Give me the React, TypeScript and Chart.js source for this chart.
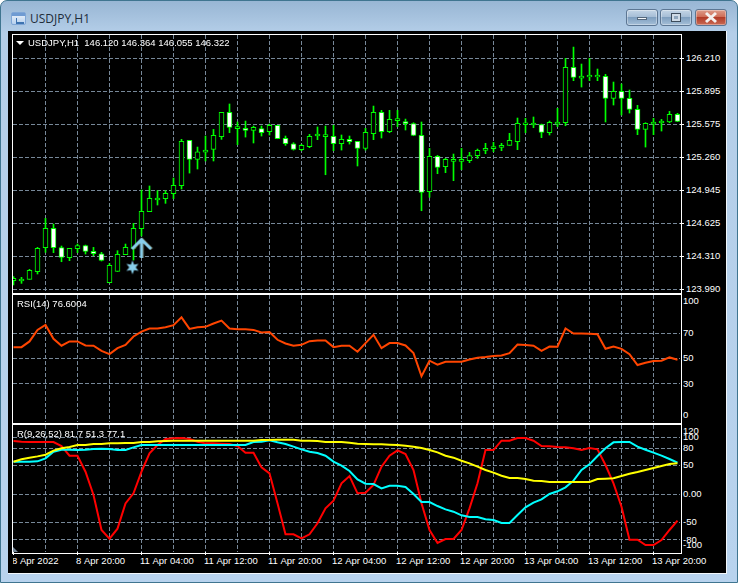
import React, { useEffect, useRef } from "react";
import { Chart, registerables } from "chart.js";

Chart.register(...registerables);

const opens = [124.075,124.072,124.088,124.161,124.392,124.578,124.392,124.296,124.382,124.411,124.357,124.334,124.055,124.164,124.325,124.385,124.575,124.738,124.850,124.863,124.911,124.988,125.423,125.241,125.311,125.337,125.459,125.692,125.536,125.539,125.519,125.536,125.507,125.568,125.443,125.391,125.334,125.363,125.465,125.459,125.462,125.391,125.433,125.414,125.346,125.487,125.692,125.507,125.612,125.603,125.584,125.471,124.930,125.270,125.170,125.222,125.222,125.228,125.276,125.327,125.343,125.356,125.375,125.411,125.574,125.571,125.574,125.497,125.580,125.593,126.125,126.022,126.032,126.032,126.038,125.827,125.894,125.827,125.721,125.529,125.580,125.590,125.600,125.673];
const closes = [124.097,124.091,124.174,124.385,124.578,124.392,124.299,124.385,124.411,124.357,124.334,124.270,124.222,124.328,124.395,124.578,124.741,124.866,124.869,124.914,124.991,125.414,125.241,125.314,125.330,125.471,125.692,125.548,125.555,125.519,125.548,125.497,125.568,125.439,125.391,125.337,125.375,125.462,125.484,125.478,125.391,125.433,125.411,125.346,125.500,125.692,125.507,125.625,125.632,125.584,125.471,124.924,125.270,125.164,125.241,125.241,125.241,125.276,125.327,125.346,125.363,125.375,125.423,125.587,125.593,125.590,125.500,125.596,125.600,126.125,126.029,126.042,126.051,126.051,125.827,125.894,125.827,125.721,125.529,125.587,125.600,125.609,125.673,125.606];
const highs = [124.113,124.107,124.184,124.395,124.674,124.619,124.408,124.385,124.427,124.417,124.395,124.347,124.241,124.363,124.427,124.626,124.946,124.985,124.940,124.940,125.061,125.433,125.423,125.359,125.465,125.529,125.692,125.773,125.600,125.609,125.561,125.561,125.580,125.568,125.465,125.401,125.385,125.481,125.552,125.561,125.568,125.475,125.465,125.414,125.539,125.753,125.712,125.712,125.712,125.628,125.593,125.600,125.346,125.279,125.250,125.292,125.346,125.308,125.340,125.395,125.404,125.395,125.491,125.638,125.635,125.648,125.580,125.609,125.731,126.211,126.320,126.157,126.211,126.109,126.058,125.984,125.965,125.907,125.760,125.593,125.635,125.625,125.702,125.683];
const lows = [124.033,124.049,124.088,124.139,124.347,124.344,124.257,124.267,124.344,124.331,124.315,124.264,124.055,124.164,124.325,124.273,124.504,124.738,124.802,124.818,124.863,124.956,125.109,125.148,125.225,125.225,125.433,125.497,125.382,125.455,125.398,125.465,125.475,125.439,125.375,125.330,125.324,125.353,125.430,125.093,125.324,125.330,125.388,125.177,125.330,125.430,125.446,125.497,125.555,125.523,125.468,124.747,124.876,125.103,125.113,125.036,125.142,125.209,125.250,125.295,125.314,125.324,125.375,125.334,125.497,125.545,125.449,125.475,125.555,125.564,125.997,125.936,125.997,125.997,125.600,125.763,125.667,125.686,125.478,125.359,125.478,125.513,125.593,125.603];

const rsiValues = [59.0,59.0,63.5,72.6,76.5,65.6,60.1,63.5,63.5,60.3,60.1,56.1,53.5,58.2,60.8,67.4,71.3,73.7,73.7,74.7,76.3,82.5,73.4,74.7,75.0,77.6,79.9,73.7,73.1,73.1,72.6,70.5,71.0,64.8,61.9,60.1,60.8,63.7,64.2,64.2,59.0,60.1,60.1,55.4,62.2,68.7,58.2,62.2,62.2,60.3,54.3,36.0,48.3,45.2,47.5,47.5,47.5,49.3,50.7,51.2,52.0,52.5,54.3,61.1,60.6,60.1,56.1,59.5,59.3,73.7,69.7,69.7,69.5,69.2,57.7,59.5,57.7,53.5,44.9,46.7,48.0,48.3,50.9,49.1];

const redValues = [93.5,92.3,91.8,91.8,91.8,91.8,84.7,67.8,67.8,39.7,-1.2,-62.5,-77.7,-60.2,-15.8,1.8,39.7,71.9,86.5,97.0,98.2,98.8,97.0,92.3,89.4,89.4,88.8,88.3,84.7,73.1,73.1,47.3,36.8,-15.8,-70.1,-70.1,-77.1,-70.1,-50.8,-24.5,-11.1,19.3,32.1,1.8,2.9,16.4,48.5,67.8,77.1,70.7,42.7,-15.8,-62.5,-85.3,-78.3,-78.3,-62.5,-24.5,19.3,77.7,77.7,94.1,94.1,98.8,98.8,94.1,84.7,84.2,83.0,82.4,80.7,77.7,81.2,78.9,51.4,19.3,-21.6,-79.5,-79.5,-88.8,-88.8,-80.1,-62.5,-46.2];
const cyanValues = [57.3,57.3,57.3,57.9,63.1,74.8,78.3,78.3,77.7,78.3,79.5,80.1,79.5,77.7,77.7,82.4,86.5,86.5,86.5,86.5,86.5,86.5,86.5,86.5,86.5,86.5,86.5,86.5,86.5,86.5,91.8,92.3,94.7,91.2,88.3,83.6,78.9,74.8,72.5,67.8,57.3,50.3,40.9,26.3,18.7,18.1,10.5,15.2,15.2,12.9,0.6,-13.4,-13.4,-20.5,-26.3,-30.4,-36.8,-39.7,-39.7,-43.8,-45.0,-50.3,-50.3,-36.2,-22.8,-14.6,-8.8,0.6,5.3,12.3,24.0,42.7,52.6,67.2,80.7,91.2,91.8,91.8,83.6,78.3,73.1,67.8,62.0,55.5];
const yellowValues = [57.3,61.4,64.3,66.6,69.5,76.6,80.7,83.0,86.5,86.5,88.3,88.3,89.4,89.4,90.0,90.0,91.8,91.8,92.9,93.5,94.1,94.1,94.1,94.1,94.1,94.1,94.1,94.1,94.1,94.1,94.1,95.3,95.3,95.9,95.9,95.9,94.1,94.1,93.5,91.8,91.8,91.8,90.6,88.8,88.3,87.7,87.7,87.1,86.5,85.3,83.6,81.2,77.7,73.6,67.8,64.3,59.0,54.4,48.5,42.7,38.0,32.7,28.6,28.6,26.9,24.0,23.4,21.6,21.6,21.6,21.6,21.6,21.6,26.9,27.5,28.1,32.1,36.2,39.2,42.7,46.2,49.7,53.2,54.4];

const priceTicks = [123.99,124.31,124.625,124.945,125.26,125.575,125.895,126.21];
const rsiTicks = [0,30,50,70,100];
const rsiGridLevels = [30,50,70];
const oscTicks = [-100,-80,-50,0,50,80,100,120];
const oscGridLevels = [-80,-50,0,50,80,100];
const timeLabels = ["8 Apr 2022","8 Apr 20:00","11 Apr 04:00","11 Apr 12:00","11 Apr 20:00","12 Apr 04:00","12 Apr 12:00","12 Apr 20:00","13 Apr 04:00","13 Apr 12:00","13 Apr 20:00"];

const arrowPoint = { x: 16, y: 124.389 };
const starPoint = { x: 15, y: 124.203 };

const FONT = '"Liberation Sans", Arial, sans-serif';
const GRID = "#778899";
const GREEN = "#00ff00";
const BAR_COUNT = opens.length;
const tickIdx: number[] = [];
for (let i = 0; i < BAR_COUNT; i += 4) tickIdx.push(i);

function clearPadding(s: any) {
  s.paddingTop = 0;
  s.paddingBottom = 0;
  s.paddingLeft = 0;
  s.paddingRight = 0;
}

function xScale(showLabels: boolean) {
  return {
    type: "linear",
    offset: false,
    min: -0.0625,
    max: 83.3125,
    afterBuildTicks: (s: any) => { s.ticks = tickIdx.map((value) => ({ value })); },
    afterFit: (s: any) => { s.height = showLabels ? 21 : 0; clearPadding(s); },
    border: { display: false, dash: [4, 2] },
    grid: {
      offset: false,
      color: (c: any) => (c.tick && c.tick.value === 0 ? "transparent" : GRID),
      lineWidth: 1,
      drawTicks: showLabels,
      tickLength: 3,
      tickBorderDash: [],
      tickColor: (c: any) => (c.tick && c.tick.value % 8 === 0 ? "#ffffff" : "transparent"),
    },
    ticks: {
      display: showLabels,
      autoSkip: false,
      maxRotation: 0,
      minRotation: 0,
      align: "start",
      labelOffset: -1.5,
      padding: 1,
      color: "#ffffff",
      font: { family: FONT, size: 9.5 },
      callback: (v: number) => (v % 8 === 0 ? timeLabels[v / 8] : ""),
    },
  };
}

function yScale(min: number, max: number, ticks: number[], grid: number[] | null, fmt: (v: number) => any, lh: number, tickLen: number, pad: number) {
  return {
    position: "right",
    min,
    max,
    afterBuildTicks: (s: any) => { s.ticks = ticks.map((value) => ({ value })); },
    afterFit: (s: any) => { s.width = 46; clearPadding(s); },
    border: { display: false, dash: [4, 2] },
    grid: {
      color: (c: any) => (!c.tick || !grid || grid.includes(c.tick.value) ? GRID : "transparent"),
      drawTicks: tickLen > 0,
      tickLength: tickLen,
      tickBorderDash: [],
      tickColor: "#ffffff",
    },
    ticks: {
      autoSkip: false,
      padding: pad,
      color: "#ffffff",
      font: { family: FONT, size: 9.5, lineHeight: lh },
      callback: fmt,
    },
  };
}

const baseOptions = {
  responsive: false,
  maintainAspectRatio: false,
  animation: false,
  devicePixelRatio: 1,
  events: [],
  layout: { padding: 0, autoPadding: false },
  plugins: { legend: { display: false }, tooltip: { enabled: false }, title: { display: false } },
};

function makeStar() {
  const c = document.createElement("canvas");
  c.width = 16; c.height = 16;
  const g = c.getContext("2d")!;
  g.fillStyle = "#87ceeb";
  g.beginPath();
  for (let k = 0; k < 12; k++) {
    const a = (Math.PI * k) / 6 - Math.PI / 2;
    const r = k % 2 === 0 ? 7 : 3.2;
    const px = 7 + r * Math.cos(a), py = 8 + r * Math.sin(a);
    if (k === 0) g.moveTo(px, py); else g.lineTo(px, py);
  }
  g.closePath();
  g.fill();
  return c;
}

function makeArrow() {
  const c = document.createElement("canvas");
  c.width = 24; c.height = 24;
  const g = c.getContext("2d")!;
  const draw = (dx: number, color: string) => {
    g.strokeStyle = color;
    g.lineWidth = 3;
    g.lineCap = "butt";
    g.lineJoin = "miter";
    g.beginPath();
    g.moveTo(2.5 + dx, 13);
    g.lineTo(12 + dx, 3.5);
    g.lineTo(21.5 + dx, 13);
    g.moveTo(12 + dx, 4);
    g.lineTo(12 + dx, 22);
    g.stroke();
  };
  draw(0.8, "#5f5a3c");
  draw(0, "#87ceeb");
  return c;
}

function useChart(build: () => any) {
  const ref = useRef<HTMLCanvasElement | null>(null);
  useEffect(() => {
    const el = ref.current as HTMLCanvasElement;
    el.getContext("2d", { alpha: false });
    const chart = new Chart(el as any, build());
    return () => chart.destroy();
  }, []);
  return ref;
}

function pts(values: number[]) {
  return values.map((y, x) => ({ x, y }));
}

const abs = (left: number, top: number, width?: number, height?: number): React.CSSProperties => ({ position: "absolute", left, top, width, height });

function Frame({ top, bottom }: { top: number; bottom: number }) {
  return <div style={{ ...abs(12, top, 668, bottom - top - 1), border: "1px solid #ffffff", pointerEvents: "none", zIndex: 3 }} />;
}

function Label({ x, y, children }: { x: number; y: number; children: React.ReactNode }) {
  return (
    <div style={{ position: "absolute", left: x, top: y, color: "#fff", font: `9.5px ${FONT}`, lineHeight: "12px", whiteSpace: "pre", zIndex: 4 }}>
      {children}
    </div>
  );
}

function WinButton({ x, w, bg, children }: { x: number; w: number; bg: string; children: React.ReactNode }) {
  return (
    <div style={{ ...abs(x, 9, w, 17), borderRadius: 3, border: "1px solid #5c7693", background: bg, boxShadow: "inset 0 0 0 1px rgba(255,255,255,0.35)", boxSizing: "border-box" }}>
      {children}
    </div>
  );
}

export default function App() {
  const mainRef = useChart(() => ({
    type: "bar",
    data: {
      datasets: [
        {
          type: "scatter",
          order: 0,
          data: [arrowPoint],
          pointStyle: makeArrow(),
          pointRadius: 12,
          showLine: false,
        },
        {
          type: "scatter",
          order: 0,
          data: [starPoint],
          pointStyle: makeStar(),
          pointRadius: 8,
          showLine: false,
        },
        {
          order: 1,
          grouped: false,
          barThickness: 5,
          borderWidth: 1,
          borderSkipped: false,
          borderColor: GREEN,
          backgroundColor: opens.map((o, i) => (o > closes[i] ? "#ffffff" : "#000000")),
          data: opens.map((o, i) => ({ x: i, y: [o, closes[i]] })),
        },
        {
          order: 2,
          grouped: false,
          barThickness: 1,
          borderWidth: 0,
          backgroundColor: GREEN,
          data: lows.map((l, i) => ({ x: i, y: [l, highs[i]] })),
        },
      ],
    },
    options: {
      ...baseOptions,
      scales: {
        x: xScale(false),
        y: yScale(123.966, 126.436, priceTicks, null, (v: number) => v.toFixed(3), 1.2, 4, 2),
      },
    },
  }));

  const rsiRef = useChart(() => ({
    type: "line",
    data: {
      datasets: [{ data: pts(rsiValues), borderColor: "#ff4500", borderWidth: 2, pointRadius: 0, tension: 0 }],
    },
    options: {
      ...baseOptions,
      scales: {
        x: xScale(false),
        y: yScale(0, 100.1, rsiTicks, rsiGridLevels, (v: number) => (v === 100 ? ["", "100"] : v === 0 ? ["0", ""] : String(v)), 1.4, 0, 3),
      },
    },
  }));

  const oscRef = useChart(() => ({
    type: "line",
    data: {
      datasets: [
        { data: pts(redValues), borderColor: "#ff0000", borderWidth: 2, pointRadius: 0, tension: 0, order: 3 },
        { data: pts(cyanValues), borderColor: "#00ffff", borderWidth: 2, pointRadius: 0, tension: 0, order: 2 },
        { data: pts(yellowValues), borderColor: "#ffff00", borderWidth: 2, pointRadius: 0, tension: 0, order: 1 },
      ],
    },
    options: {
      ...baseOptions,
      scales: {
        x: xScale(true),
        y: yScale(-101.1, 121.6, oscTicks, oscGridLevels, (v: number) => (v === 120 ? ["", "120"] : v === -100 ? ["-100", ""] : v === 0 ? "0.00" : String(v)), 1.2, 0, 3),
      },
    },
  }));

  return (
    <div style={{ ...abs(0, 0, 738, 583), position: "fixed", background: "#fff", overflow: "hidden" }}>
      <div style={{ ...abs(0, 0, 738, 583), boxSizing: "border-box", borderRadius: "7px 7px 0 0", border: "1px solid #3f7590", background: "linear-gradient(to bottom,#98b6d4 0,#b4cee8 32px,#b8d3ee 100%)" }} />

      <div style={{ ...abs(11, 12, 15, 13), background: "linear-gradient(#eef4fb,#b7d1ee)", border: "1px solid #7fa6d6", borderRadius: 2, boxSizing: "border-box" }}>
        <div style={{ ...abs(0, 0, 13, 3), background: "#6f9bd2" }} />
        <div style={{ ...abs(4, 5, 7, 4), borderBottom: "2px solid #3d73b0", borderLeft: "1px solid #3d73b0" }} />
      </div>
      <div style={{ position: "absolute", left: 30, top: 10, color: "#1e2c3a", font: '12px "Open Sans", sans-serif', lineHeight: "17px" }}>USDJPY,H1</div>

      <WinButton x={626} w={32} bg="linear-gradient(#c4d5e6 0,#a6bed6 45%,#7f9fbf 50%,#a5bfd8 100%)">
        <div style={{ ...abs(10, 7, 10, 3), background: "#f4f7fa", border: "1px solid #55687c", boxSizing: "border-box" }} />
      </WinButton>
      <WinButton x={660} w={32} bg="linear-gradient(#c4d5e6 0,#a6bed6 45%,#7f9fbf 50%,#a5bfd8 100%)">
        <div style={{ ...abs(10, 3, 10, 9), background: "#cfdbe7", border: "1px solid #3d4c5c", boxSizing: "border-box" }}>
          <div style={{ ...abs(2, 2, 4, 3), background: "#8fa6bd" }} />
        </div>
      </WinButton>
      <WinButton x={695} w={32} bg="linear-gradient(#dc9c8a 0,#cf6e58 45%,#b23c28 50%,#c96a54 100%)">
        <svg width="30" height="15" style={{ position: "absolute", left: 0, top: 0 }}>
          <path d="M10 3 L20 12 M20 3 L10 12" stroke="#f4f0ee" strokeWidth="3" />
        </svg>
      </WinButton>

      <div style={{ ...abs(8, 31, 719, 543), background: "#000", borderRight: "1px solid #f2f7fb", borderBottom: "1px solid #f2f7fb", boxSizing: "border-box" }} />

      <canvas ref={mainRef} width={713} height={257} style={{ ...abs(13, 35, 713, 257), zIndex: 2 }} />
      <canvas ref={rsiRef} width={713} height={127} style={{ ...abs(13, 295, 713, 127), zIndex: 2 }} />
      <canvas ref={oscRef} width={713} height={148} style={{ ...abs(13, 425, 713, 148), zIndex: 2 }} />

      <Frame top={34} bottom={293} />
      <Frame top={294} bottom={423} />
      <Frame top={424} bottom={553} />

      <div style={{ ...abs(16, 41, 0, 0), borderLeft: "4px solid transparent", borderRight: "4px solid transparent", borderTop: "4px solid #fff", zIndex: 4 }} />
      <Label x={28} y={37}>{"USDJPY,H1  146.120 146.364 146.055 146.322"}</Label>
      <Label x={17} y={298}>{"RSI(14) 76.6004"}</Label>
      <Label x={17} y={428}>{"R(9,26,52) 81.7 51.3 77.1"}</Label>
      <div style={{ ...abs(13, 547, 0, 0), borderRight: "5px solid transparent", borderBottom: "5px solid #778899", zIndex: 4 }} />
    </div>
  );
}
